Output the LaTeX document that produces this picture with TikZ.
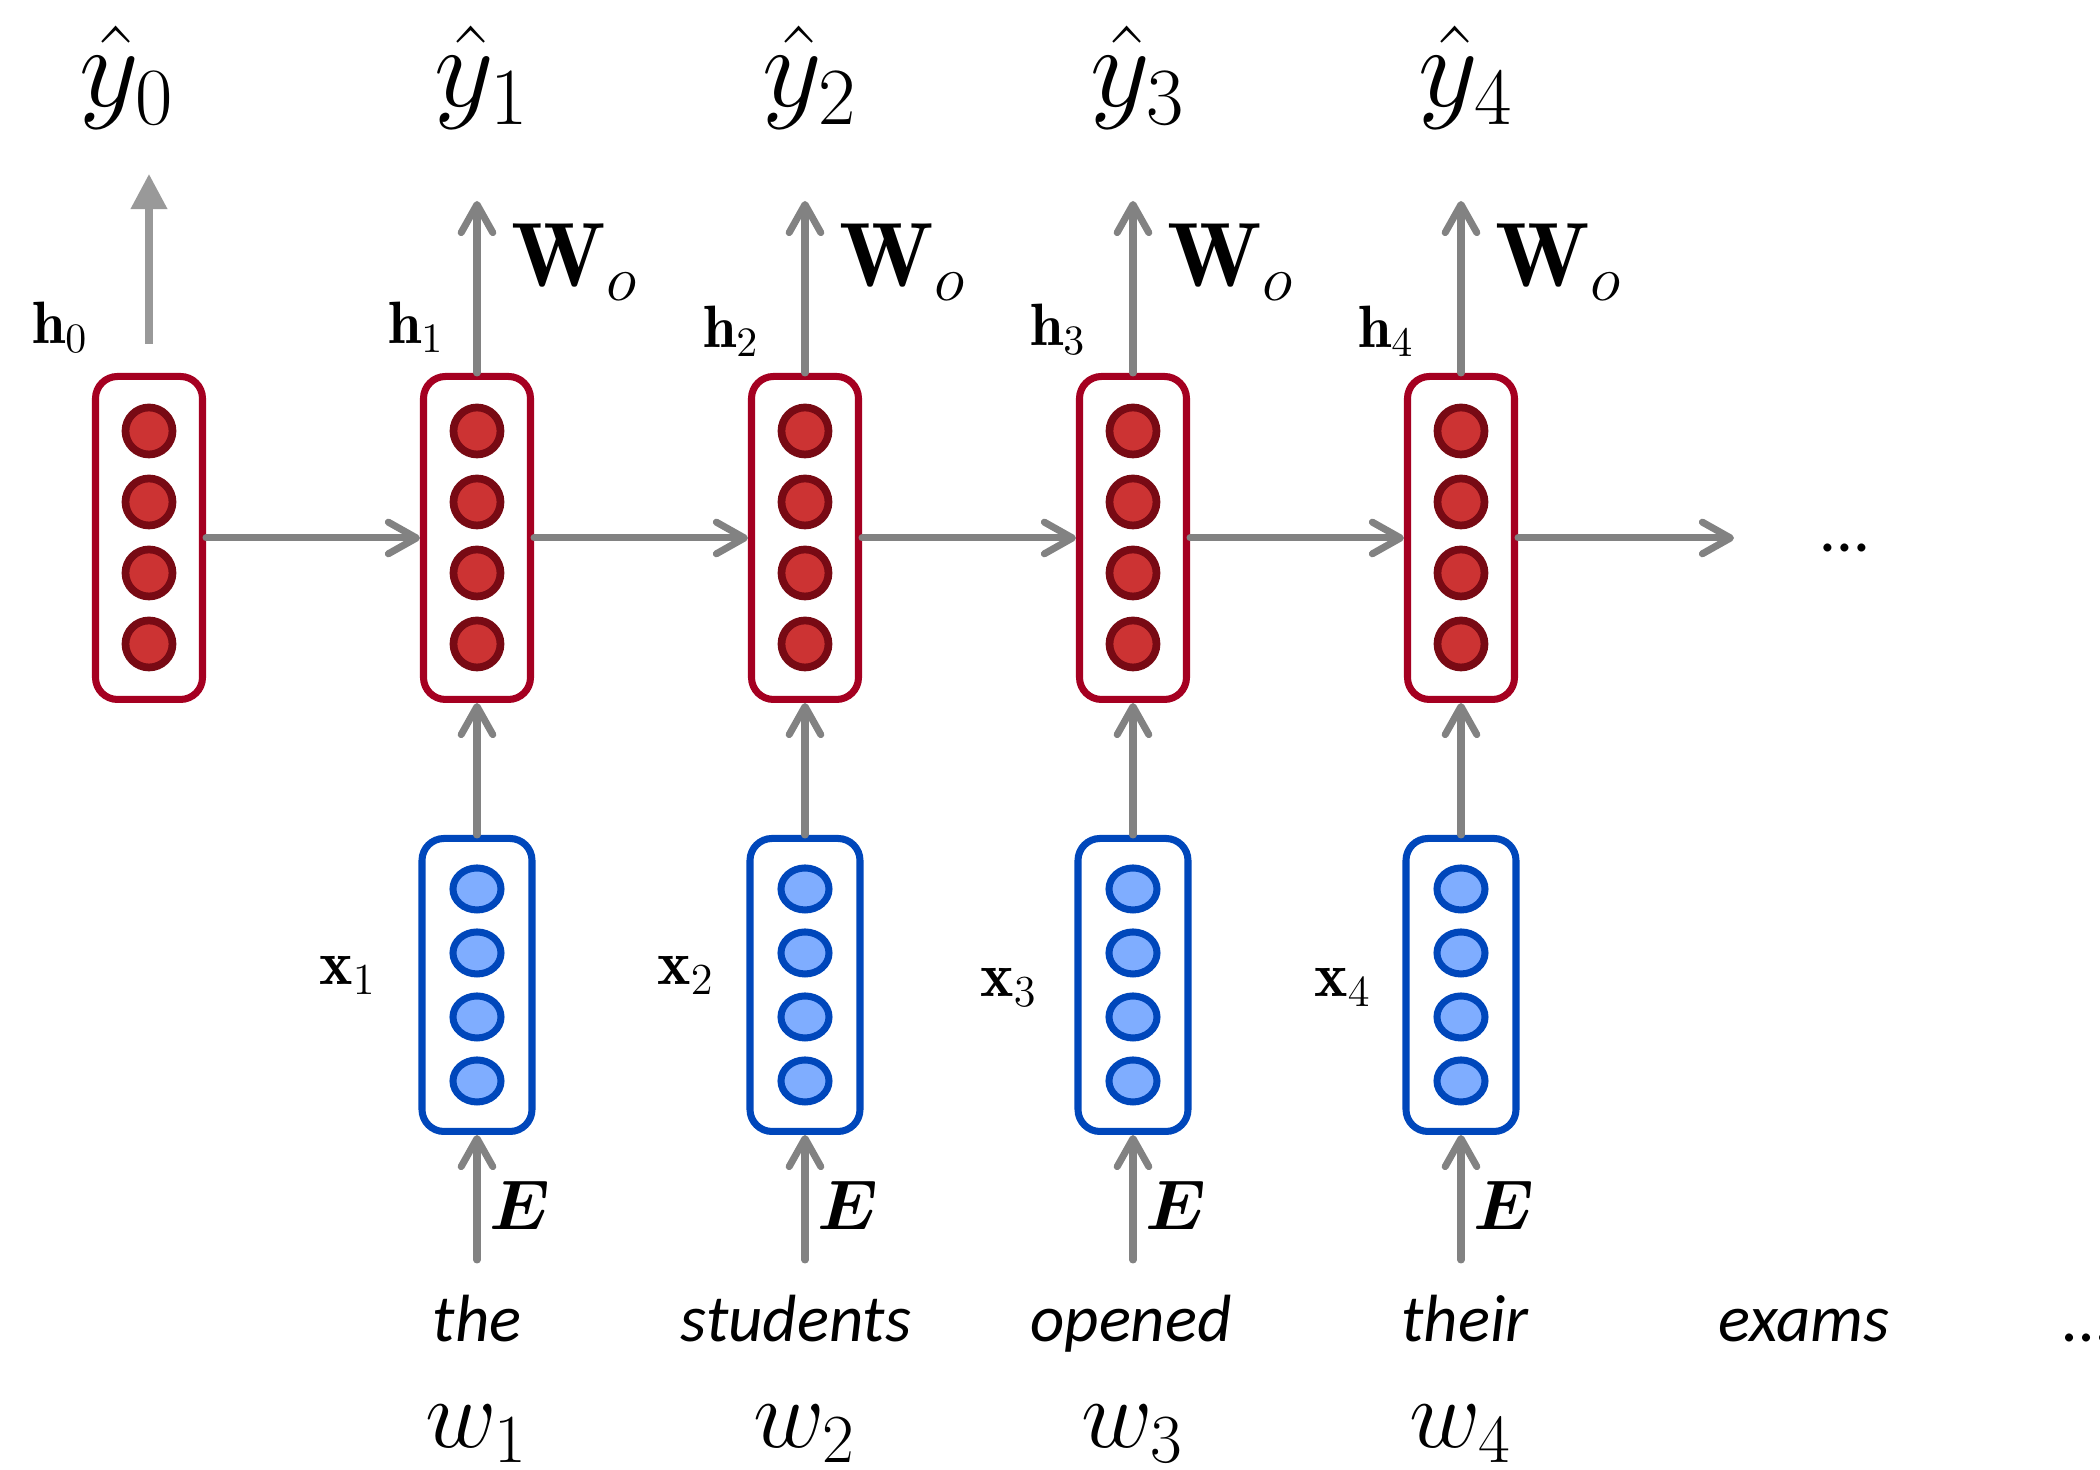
\RequirePackage{fix-cm}
\documentclass[tikz,border=0pt]{standalone}
\usepackage{bm}
\usepackage{fontspec}
\newfontfamily\wordfont{Carlito}
\usetikzlibrary{arrows.meta}

\definecolor{hidred}{HTML}{A50021}
\definecolor{hidfill}{HTML}{CC3333}
\definecolor{hiddark}{HTML}{780A14}
\definecolor{embblue}{HTML}{0047BB}
\definecolor{embfill}{HTML}{7FADFF}
\definecolor{arrgray}{HTML}{828282}

\tikzset{
  hidbox/.style={draw=hidred,line width=2pt,rounded corners=0.22cm,minimum width=1.07cm,minimum height=3.23cm,inner sep=0pt},
  embbox/.style={draw=embblue,line width=2pt,rounded corners=0.22cm,minimum width=1.10cm,minimum height=2.93cm,inner sep=0pt},
  hidunit/.style={fill=hidfill,draw=hiddark,line width=2.2pt},
  embunit/.style={fill=embfill,draw=embblue,line width=2pt},
  flow/.style={draw=arrgray,line width=2pt,line cap=round,-{Straight Barb[length=8pt,width=9pt,round]}},
  outlbl/.style={font=\fontsize{33}{40}\selectfont,anchor=base,inner sep=0pt},
  wlbl/.style={font=\fontsize{26}{31}\selectfont,anchor=base,inner sep=0pt},
  hlbl/.style={font=\fontsize{17}{20}\selectfont,anchor=base,inner sep=0pt},
  xlbl/.style={font=\fontsize{18}{22}\selectfont,anchor=base,inner sep=0pt},
  elbl/.style={font=\fontsize{20}{24}\selectfont,inner sep=0pt},
  word/.style={font=\wordfont\itshape\fontsize{19}{23}\selectfont,anchor=base,inner sep=0pt},
  idx/.style={font=\fontsize{28}{34}\selectfont,anchor=base,inner sep=0pt},
}

\begin{document}
\begin{tikzpicture}
\useasboundingbox (0,0) rectangle (21,14.7);

% hidden states
\foreach \i/\x in {0/1.49,1/4.77,2/8.05,3/11.33,4/14.61}{
  \node[hidbox] (h\i) at (\x,9.32) {};
  \foreach \dy in {1.07,0.36,-0.35,-1.06}
    \draw[hidunit] (h\i.center) ++(0,\dy) circle (0.235);
}
\foreach \i/\j in {0/1,1/2,2/3,3/4}
  \draw[flow] (h\i) -- (h\j);
\coordinate (hnext) at (17.34,9.32);
\draw[flow] (h4) -- (hnext);
\node[word,font=\wordfont\fontsize{19}{23}\selectfont] (hdots) at (18.45,9.18) {...};

% first output
\coordinate (h0top) at (1.49,11.26); \coordinate (o0) at (1.49,12.96);
\draw[draw=gray!80,line width=2pt,-{Triangle[length=10pt,width=10pt]}] (h0top) -- (o0);
\node[outlbl] (yh0) at (1.27,13.63) {$\hat{y}_0$};
\node[hlbl] (hl0) at (0.60,11.26) {$\mathbf{h}_0$};

% embeddings, inputs and outputs
\foreach \i/\x in {1/4.77,2/8.05,3/11.33,4/14.61}{
  \node[embbox] (x\i) at (\x,4.85) {};
  \foreach \dy in {0.96,0.32,-0.32,-0.96}
    \draw[embunit] (x\i.center) ++(0,\dy) ellipse (0.24 and 0.21);
  \draw[flow] (x\i) -- (h\i);
  \coordinate (in\i) at (\x,2.10);
  \draw[flow] (in\i) -- (x\i);
  \coordinate (o\i) at (\x,12.69);
  \draw[flow] (h\i) -- (o\i);
  \node[outlbl] (yh\i) at (\x+0.05,13.63) {$\hat{y}_\i$};
  \node[wlbl] (wo\i) at (\x+0.98,11.83) {$\mathbf{W}_o$};
  \node[elbl] (e\i) at (\x+0.43,2.65) {$\bm{E}$};
  \node[idx] (w\i) at (\x,0.22) {$w_\i$};
}

% labels
\node[hlbl] (hl1) at (4.16,11.26) {$\mathbf{h}_1$};
\node[hlbl] (hl2) at (7.31,11.22) {$\mathbf{h}_2$};
\node[hlbl] (hl3) at (10.58,11.24) {$\mathbf{h}_3$};
\node[hlbl] (hl4) at (13.86,11.22) {$\mathbf{h}_4$};
\node[xlbl] (xl1) at (3.48,4.85) {$\mathbf{x}_1$};
\node[xlbl] (xl2) at (6.86,4.85) {$\mathbf{x}_2$};
\node[xlbl] (xl3) at (10.09,4.73) {$\mathbf{x}_3$};
\node[xlbl] (xl4) at (13.43,4.73) {$\mathbf{x}_4$};

% words
\node[word] (the) at (4.77,1.28) {the};
\node[word] (students) at (7.96,1.28) {students};
\node[word] (opened) at (11.31,1.28) {opened};
\node[word] (their) at (14.65,1.28) {their};
\node[word] (exams) at (18.04,1.28) {exams};
\node[word] (wdots) at (20.88,1.28) {...};
\end{tikzpicture}
\end{document}
